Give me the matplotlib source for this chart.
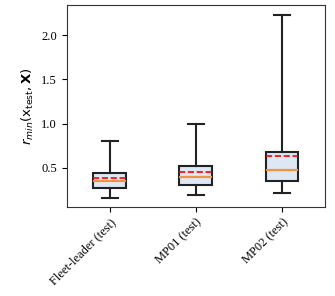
import matplotlib
matplotlib.use('Agg')
import matplotlib.pyplot as plt

labels = ['Fleet-leader (test)', 'MP01 (test)', 'MP02 (test)']
whislo = [0.157, 0.195, 0.217]
q1 = [0.267, 0.308, 0.350]
med = [0.350, 0.395, 0.477]
mean = [0.380, 0.448, 0.632]
q3 = [0.440, 0.516, 0.681]
whishi = [0.800, 1.000, 2.227]

stats = []
for i in range(len(labels)):
    stats.append({'label': labels[i], 'whislo': whislo[i], 'q1': q1[i], 'med': med[i],
                  'mean': mean[i], 'q3': q3[i], 'whishi': whishi[i], 'fliers': []})

fig = plt.figure(figsize=(3.35, 2.96), dpi=100)
ax = fig.add_axes([0.199, 0.302, 0.771, 0.681])

ax.bxp(stats, widths=0.38, showmeans=True, meanline=True, patch_artist=True,
       boxprops=dict(facecolor='#dde8f4', edgecolor='#222222', linewidth=1.5),
       whiskerprops=dict(color='#222222', linewidth=1.5),
       capprops=dict(color='#222222', linewidth=1.5),
       medianprops=dict(color='#f5923e', linewidth=1.6),
       meanprops=dict(color='red', linestyle='--', linewidth=1.2))

ax.set_ylim(0.06, 2.34)
ax.set_yticks([0.5, 1.0, 1.5, 2.0])
ax.set_yticklabels(['0.5', '1.0', '1.5', '2.0'], family='Liberation Serif', fontsize=9)
ax.set_xticklabels(labels, rotation=45, ha='right', rotation_mode='anchor',
                   family='Liberation Serif', fontsize=9)
ax.set_ylabel(r'$r_{min}(\mathrm{x}_{\mathrm{test}}, \mathbf{X})$', fontsize=9.5)
for s in ax.spines.values():
    s.set_color('#333333')

fig.savefig('out.png', dpi=100)
